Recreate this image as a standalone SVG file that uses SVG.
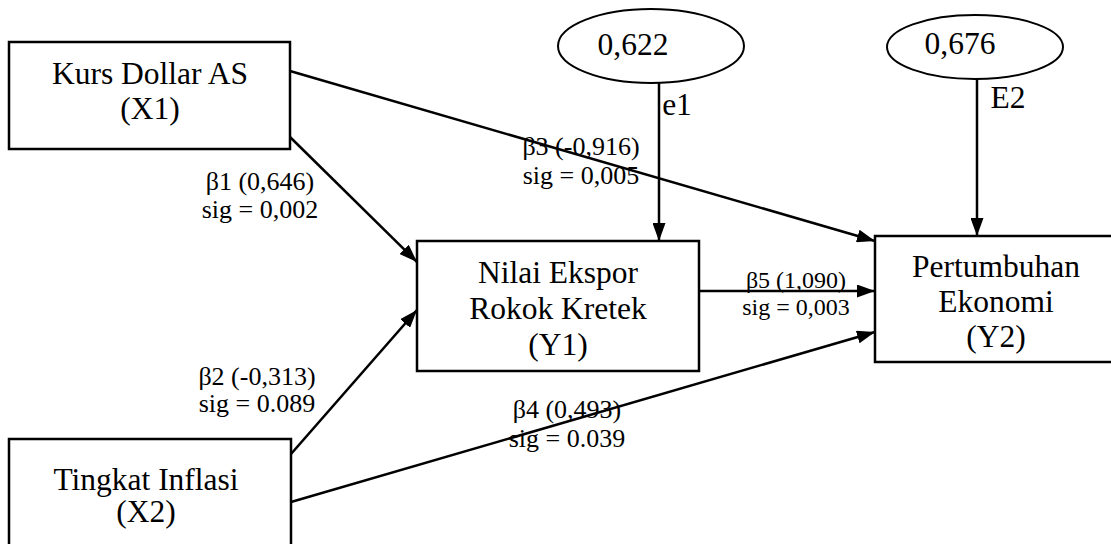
<svg xmlns="http://www.w3.org/2000/svg" width="1111" height="544" viewBox="0 0 1111 544">
<style>
.box{fill:#fff;stroke:#000;stroke-width:2.5}
.ell{fill:#fff;stroke:#000;stroke-width:2}
.t{font-family:"Liberation Serif","Times New Roman",serif;font-size:31.5px;fill:#000;text-anchor:middle}
.lb{font-family:"Liberation Serif","Times New Roman",serif;font-size:26px;fill:#000;text-anchor:middle}
.lb5{font-family:"Liberation Serif","Times New Roman",serif;font-size:24px;fill:#000;text-anchor:middle}
.c{fill:none;stroke:#000;stroke-width:2.5}
</style>
<defs>
<marker id="ah" viewBox="0 0 18 13" refX="18" refY="6.5" markerWidth="18" markerHeight="13" markerUnits="userSpaceOnUse" orient="auto">
<path d="M0,0 L18,6.5 L0,13 Z" fill="#000"/>
</marker>
</defs>
<rect width="1111" height="544" fill="#fff"/>
<g id="X1">
<rect class="box" x="9" y="42" width="281" height="107"/>
<text class="t" x="150" y="84">Kurs Dollar AS</text>
<text class="t" x="150" y="119">(X1)</text>
</g>
<g id="X2">
<rect class="box" x="9" y="439" width="282" height="120"/>
<text class="t" x="146" y="490">Tingkat Inflasi</text>
<text class="t" x="146" y="522">(X2)</text>
</g>
<g id="Y1">
<rect class="box" x="417" y="241" width="282" height="130"/>
<text class="t" x="558" y="283">Nilai Ekspor</text>
<text class="t" x="558" y="319">Rokok Kretek</text>
<text class="t" x="558" y="355">(Y1)</text>
</g>
<g id="Y2">
<rect class="box" x="875" y="236" width="245" height="126"/>
<text class="t" x="996" y="277">Pertumbuhan</text>
<text class="t" x="996" y="312">Ekonomi</text>
<text class="t" x="996" y="347">(Y2)</text>
</g>
<g id="e1">
<ellipse class="ell" cx="651" cy="46" rx="93" ry="37"/>
<text class="t" x="633" y="55">0,622</text>
</g>
<g id="E2">
<ellipse class="ell" cx="975" cy="47" rx="88" ry="32"/>
<text class="t" x="960" y="54">0,676</text>
</g>
<g id="connectors">
<line class="c" x1="290" y1="71" x2="875" y2="241" marker-end="url(#ah)"/>
<line class="c" x1="290" y1="137" x2="417" y2="262" marker-end="url(#ah)"/>
<line class="c" x1="291" y1="454" x2="417" y2="310" marker-end="url(#ah)"/>
<line class="c" x1="291" y1="502" x2="875" y2="332" marker-end="url(#ah)"/>
<line class="c" x1="699" y1="291" x2="875" y2="291" marker-end="url(#ah)"/>
<line class="c" x1="659" y1="83" x2="659" y2="241" marker-end="url(#ah)"/>
<line class="c" x1="977" y1="79" x2="977" y2="236" marker-end="url(#ah)"/>
</g>
<g id="labels">
<text class="t" x="677" y="115">e1</text>
<text class="t" x="1008" y="108">E2</text>
<text class="lb" x="260" y="190">β1 (0,646)</text>
<text class="lb" x="260" y="218">sig = 0,002</text>
<text class="lb" x="257" y="385">β2 (-0,313)</text>
<text class="lb" x="257" y="412">sig = 0.089</text>
<text class="lb" x="581" y="155">β3 (-0,916)</text>
<text class="lb" x="581" y="184">sig = 0,005</text>
<text class="lb" x="567" y="418">β4 (0,493)</text>
<text class="lb" x="567" y="447">sig = 0.039</text>
<text class="lb5" x="796" y="288">β5 (1,090)</text>
<text class="lb5" x="796" y="315">sig = 0,003</text>
</g>
</svg>
